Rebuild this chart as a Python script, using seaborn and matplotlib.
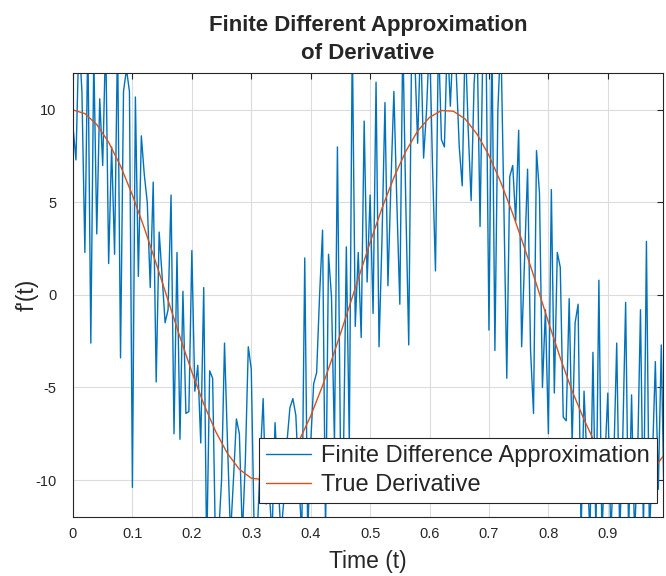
import numpy as np
import pandas as pd
import seaborn as sns
import matplotlib.pyplot as plt

# finite difference samples, dt = 0.005
dt = 0.005
fd_values = [
    9.1, 7.3, 14, 11, 2.3, 14, -2.6, 13, 3.3, 10.6,
    7.0, 14, 1.7, 8.0, 2.2, 14, -3.4, 11, 12.2, 11,
    -10.4, 10.7, 1.0, 8.6, 6.5, 5.0, 0.4, 6.1, -4.7, 3.4,
    1.0, -1.5, -0.8, 5.4, -7.5, 2.3, -7.8, 0.2, -6.4, -6.3,
    2.4, -5.2, -3.8, -8.0, 0.4, -14, -4.1, -4.5, -14, -13,
    -10, -2.6, -8, -13, -10, -6.7, -7.5, -13, -9, -2.8,
    -4.0, -13, -13, -9, -5.6, -11.3, -10.5, -13, -6.9, -10,
    -13, -11, -8, -6.1, -5.6, -6.5, -10, -13, 2.0, -13,
    -8, -4.8, -4.2, 0, 3.5, -13, 2.2, -0.1, -8, 8.0,
    -8, -9, 2.6, -8, 14, -1.7, 2.3, -2.3, 9.4, 0.7,
    5.4, -1.0, 11.5, -2.8, 3, 10.4, 0.5, 6, 11.0, 5,
    -0.5, 14, 5, -2.7, 14, 13, 8.2, 14, 7.4, 10,
    14, 7, 1.3, 14, 8.4, 8.0, 14, 10.2, 14, 12,
    8, 5.9, 14, 9, 5.1, 11.4, 14, 3.7, 14, 14,
    -1.9, 14, -3.0, 10, 14, 5, -4.5, 6.4, 7.0, 4.0,
    8.9, -2.8, 2, 6.8, -3, -6.4, 7.8, 5.5, -5, -0.8,
    -7.5, 5.7, -5.3, 2.3, 1.5, -6.6, -6.8, -0.2, -8, -1.5,
    -0.5, -13, -5.2, -9, -13, -3.1, -13, 0.8, -13, -9,
    -5.3, -13, -9, -2.6, -13, -8, -0.4, -13, -5.4, -13,
    -9, -0.8, -13, 2.9, -13, -9, -3.6, -10.5, -2.7, -12,
]
fd_time = [round(i * dt, 3) for i in range(len(fd_values))]

# true derivative, sampled every 0.02
true_time = [round(i * 0.02, 2) for i in range(51)]
true_values = [
    10.0, 9.80, 9.21, 8.25, 6.97, 5.40, 3.62, 1.70, -0.29, -2.27,
    -4.16, -5.89, -7.37, -8.57, -9.42, -9.90, -9.98, -9.67, -8.97, -7.91,
    -6.54, -4.90, -3.07, -1.12, 0.87, 2.84, 4.69, 6.35, 7.76, 8.86,
    9.60, 9.97, 9.93, 9.51, 8.69, 7.54, 6.08, 4.39, 2.53, 0.57,
    -1.46, -3.40, -5.19, -6.73, -8.11, -9.11, -9.75, -9.99, -9.85, -9.30,
    -8.39,
]

fd_df = pd.DataFrame({'t': fd_time, 'value': fd_values})
true_df = pd.DataFrame({'t': true_time, 'value': true_values})

sns.set_style('white')
plt.rcParams['font.family'] = ['Liberation Sans', 'DejaVu Sans']
plt.rcParams['axes.unicode_minus'] = False

fig = plt.figure(figsize=(6.66, 5.76), dpi=100)
ax = fig.add_axes([0.1096, 0.1024, 0.886, 0.771])

sns.lineplot(ax=ax, data=fd_df, x='t', y='value', color='#0072BD',
             linewidth=1.0, label='Finite Difference Approximation')
sns.lineplot(ax=ax, data=true_df, x='t', y='value', color='#D95319',
             linewidth=1.0, label='True Derivative')

ax.set_xlim(0, 0.993)
ax.set_ylim(-12, 12)
ax.set_xticks(np.arange(0, 1.0, 0.1))
ax.set_xticklabels(['0', '0.1', '0.2', '0.3', '0.4', '0.5', '0.6', '0.7', '0.8', '0.9'])
ax.set_yticks([-10, -5, 0, 5, 10])
ax.grid(True, color='#dcdcdc', linewidth=0.8)
ax.tick_params(direction='in', length=4, top=True, right=True,
               labelsize=10.5, colors='#262626')
ax.tick_params(axis='x', pad=7)
ax.tick_params(axis='y', pad=12)
for sp in ax.spines.values():
    sp.set_color('#262626')
    sp.set_linewidth(0.8)

ax.set_xlabel('Time (t)', fontsize=16.5, color='#262626', labelpad=7)
ax.set_ylabel("f'(t)", fontsize=16.5, color='#262626')
ax.yaxis.set_label_coords(-0.058, 0.5)
ax.set_title('Finite Different Approximation\nof Derivative',
             fontsize=16, fontweight='bold', pad=10, linespacing=1.45)

leg = ax.legend(loc='lower right', bbox_to_anchor=(0.9898, 0.0315),
                borderaxespad=0, fontsize=17, frameon=True, fancybox=False,
                framealpha=1, edgecolor='#262626', borderpad=0.3,
                handlelength=1.9, handletextpad=0.45, labelspacing=0.3)
leg.get_frame().set_linewidth(0.8)

fig.savefig('out.png', dpi=100)
